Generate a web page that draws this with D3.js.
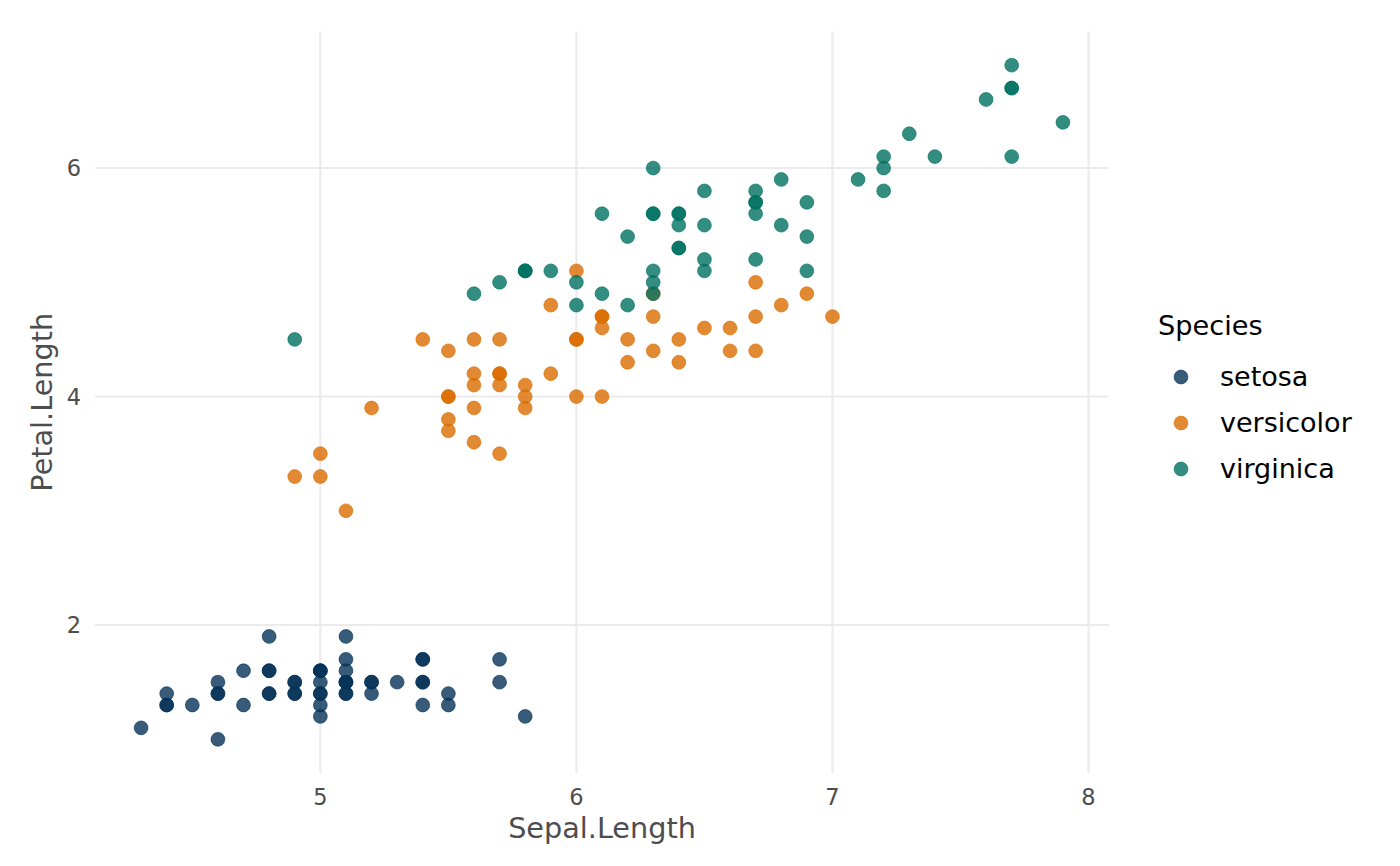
<!DOCTYPE html>
<html><head><meta charset="utf-8">
<script src="https://cdn.jsdelivr.net/npm/d3@7"></script>
<style>body{margin:0;background:#fff;} text{font-family:"DejaVu Sans",sans-serif;}</style>
</head><body>
<svg id="c" width="1400" height="866"></svg>
<script>
const species = ["setosa","versicolor","virginica"];
const colors = ["#053258","#db6c00","#007262"];
const sepalSetosa = [5.1,4.9,4.7,4.6,5.0,5.4,4.6,5.0,4.4,4.9,5.4,4.8,4.8,4.3,5.8,5.7,5.4,5.1,5.7,5.1,5.4,5.1,4.6,5.1,4.8,5.0,5.0,5.2,5.2,4.7,4.8,5.4,5.2,5.5,4.9,5.0,5.5,4.9,4.4,5.1,5.0,4.5,4.4,5.0,5.1,4.8,5.1,4.6,5.3,5.0];
const petalSetosa = [1.4,1.4,1.3,1.5,1.4,1.7,1.4,1.5,1.4,1.5,1.5,1.6,1.4,1.1,1.2,1.5,1.3,1.4,1.7,1.5,1.7,1.5,1.0,1.7,1.9,1.6,1.6,1.5,1.4,1.6,1.6,1.5,1.5,1.4,1.5,1.2,1.3,1.4,1.3,1.5,1.3,1.3,1.3,1.6,1.9,1.4,1.6,1.4,1.5,1.4];
const sepalVersicolor = [7.0,6.4,6.9,5.5,6.5,5.7,6.3,4.9,6.6,5.2,5.0,5.9,6.0,6.1,5.6,6.7,5.6,5.8,6.2,5.6,5.9,6.1,6.3,6.1,6.4,6.6,6.8,6.7,6.0,5.7,5.5,5.5,5.8,6.0,5.4,6.0,6.7,6.3,5.6,5.5,5.5,6.1,5.8,5.0,5.6,5.7,5.7,6.2,5.1,5.7];
const petalVersicolor = [4.7,4.5,4.9,4.0,4.6,4.5,4.7,3.3,4.6,3.9,3.5,4.2,4.0,4.7,3.6,4.4,4.5,4.1,4.5,3.9,4.8,4.0,4.9,4.7,4.3,4.4,4.8,5.0,4.5,3.5,3.8,3.7,3.9,5.1,4.5,4.5,4.7,4.4,4.1,4.0,4.4,4.6,4.0,3.3,4.2,4.2,4.2,4.3,3.0,4.1];
const sepalVirginica = [6.3,5.8,7.1,6.3,6.5,7.6,4.9,7.3,6.7,7.2,6.5,6.4,6.8,5.7,5.8,6.4,6.5,7.7,7.7,6.0,6.9,5.6,7.7,6.3,6.7,7.2,6.2,6.1,6.4,7.2,7.4,7.9,6.4,6.3,6.1,7.7,6.3,6.4,6.0,6.9,6.7,6.9,5.8,6.8,6.7,6.7,6.3,6.5,6.2,5.9];
const petalVirginica = [6.0,5.1,5.9,5.6,5.8,6.6,4.5,6.3,5.8,6.1,5.1,5.3,5.5,5.0,5.1,5.3,5.5,6.7,6.9,5.0,5.7,4.9,6.7,4.9,5.7,6.0,4.8,4.9,5.6,5.8,6.1,6.4,5.6,5.1,5.6,6.1,5.6,5.5,4.8,5.4,5.6,5.1,5.1,5.9,5.7,5.2,5.0,5.2,5.4,5.1];
const xTicks = [5,6,7,8];
const yTicks = [2,4,6];

const sepal = [sepalSetosa, sepalVersicolor, sepalVirginica];
const petal = [petalSetosa, petalVersicolor, petalVirginica];
const data = [];
species.forEach((s,i)=>sepal[i].forEach((v,j)=>data.push({s, i, x:v, y:petal[i][j]})));

const svg = d3.select("#c");
const L=95, R=1109, T=31.5, B=773;
const xe = d3.extent(data,d=>d.x), ye = d3.extent(data,d=>d.y);
const xp = (xe[1]-xe[0])*0.05, yp=(ye[1]-ye[0])*0.05;
const x = d3.scaleLinear().domain([xe[0]-xp, xe[1]+xp]).range([L,R]);
const y = d3.scaleLinear().domain([ye[0]-yp, ye[1]+yp]).range([B,T]);
const col = d3.scaleOrdinal().domain(species).range(colors);

const g = svg.append("g");
g.selectAll(".gx").data(xTicks).join("line").attr("x1",d=>x(d)).attr("x2",d=>x(d)).attr("y1",T).attr("y2",B).attr("stroke","#ebebeb").attr("stroke-width",2.1);
g.selectAll(".gy").data(yTicks).join("line").attr("y1",d=>y(d)).attr("y2",d=>y(d)).attr("x1",L).attr("x2",R).attr("stroke","#ebebeb").attr("stroke-width",2.1);

svg.append("g").selectAll("circle").data(data).join("circle")
  .attr("cx",d=>x(d.x)).attr("cy",d=>y(d.y)).attr("r",6.9)
  .attr("fill",d=>col(d.s)).attr("fill-opacity",0.8)
  .attr("stroke",d=>col(d.s)).attr("stroke-opacity",0.8).attr("stroke-width",0.8);

svg.append("g").selectAll("text").data(xTicks).join("text")
  .attr("x",d=>x(d)).attr("y",805).attr("text-anchor","middle").attr("font-size",22.5).attr("fill","#4d4d4d").text(d=>d);
svg.append("g").selectAll("text").data(yTicks).join("text")
  .attr("x",81).attr("y",d=>y(d)+8).attr("text-anchor","end").attr("font-size",22.5).attr("fill","#4d4d4d").text(d=>d);

svg.append("text").attr("x",(L+R)/2).attr("y",838).attr("text-anchor","middle").attr("font-size",28.7).attr("fill","#4d4d4d").text("Sepal.Length");
svg.append("text").attr("transform",`translate(52,${(T+B)/2}) rotate(-90)`).attr("text-anchor","middle").attr("font-size",28.7).attr("fill","#4d4d4d").text("Petal.Length");

svg.append("text").attr("x",1158).attr("y",335).attr("font-size",27.2).attr("fill","#000").text("Species");
const lg = svg.append("g").selectAll("g").data(species).join("g").attr("transform",(d,i)=>`translate(0,${377+i*46})`);
lg.append("circle").attr("cx",1181).attr("cy",0).attr("r",6.9).attr("fill",d=>col(d)).attr("fill-opacity",0.8).attr("stroke",d=>col(d)).attr("stroke-opacity",0.8).attr("stroke-width",0.8);
lg.append("text").attr("x",1220).attr("y",8.5).attr("font-size",27).attr("fill","#000").text(d=>d);
</script>
</body></html>
